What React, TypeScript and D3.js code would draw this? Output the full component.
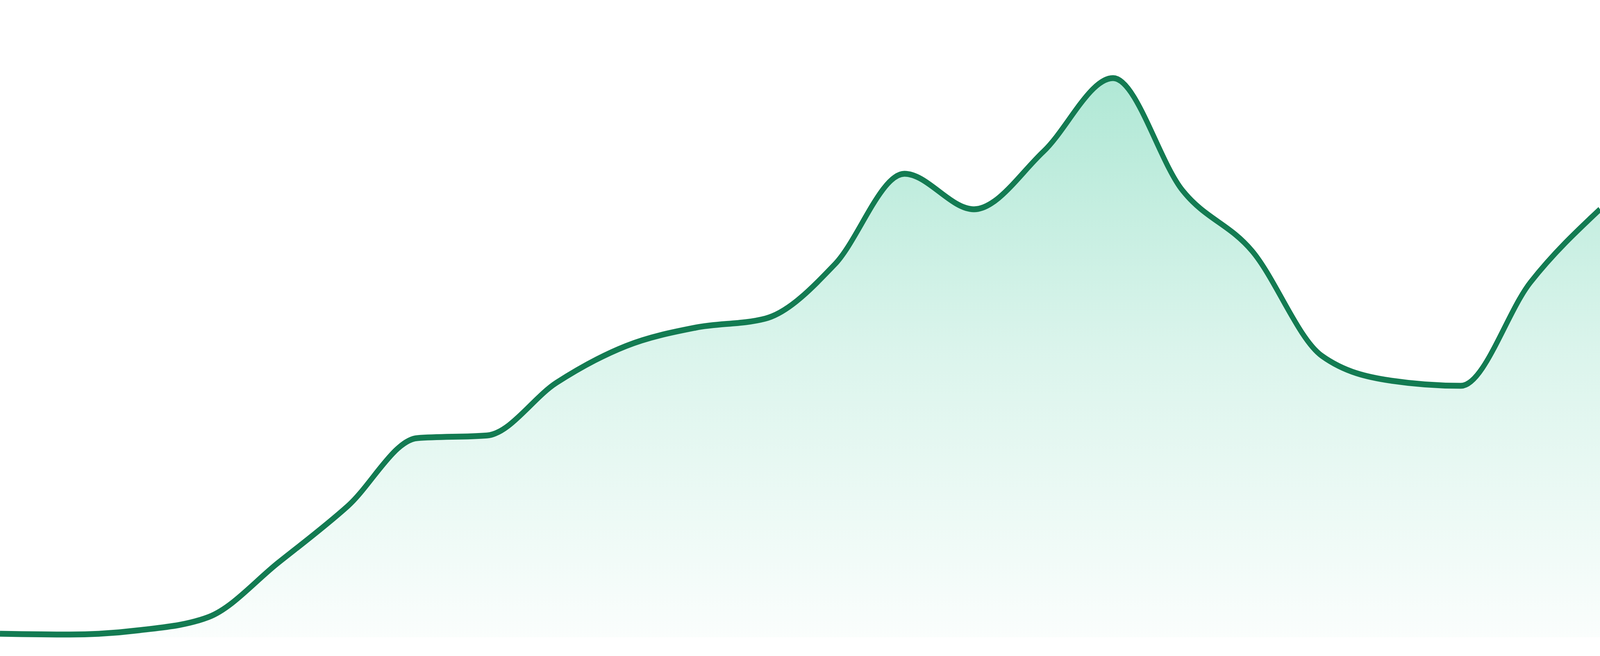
import React from "react";
import * as d3 from "d3";

// one value per evenly spaced step
const steps: number[] = [0, 1, 2, 3, 4, 5, 6, 7, 8, 9, 10, 11, 12, 13, 14, 15, 16, 17, 18, 19, 20, 21, 22, 23];
const values: number[] = [
  0.66, 0.51, 1.32, 3.82, 14.04, 24.71, 37.5, 38.0, 47.94, 54.85, 58.31, 60.0,
  70.22, 87.28, 80.59, 91.47, 105.29, 84.12, 72.72, 53.01, 48.31, 47.35, 66.84, 80.59,
];
const yDomain: [number, number] = [0, 120];

const WIDTH = 4800;
const HEIGHT = 1680;
const BASELINE = 1632;

export default class App extends React.Component {
  protected svgRef = React.createRef<SVGSVGElement>();

  componentDidMount() {
    document.body.style.margin = "0";
    this.buildChart();
  }

  componentDidUpdate() {
    this.buildChart();
  }

  buildChart() {
    const svgEl = this.svgRef.current;
    if (!svgEl) {
      return;
    }
    const svg = d3.select(svgEl);
    svg.selectAll("*").remove();

    const x = d3.scaleLinear()
      .domain([0, steps.length - 1])
      .range([0, WIDTH]);

    const y = d3.scaleLinear()
      .domain(yDomain)
      .range([BASELINE, 0]);

    const data = steps.map((s, i) => [s, values[i]] as [number, number]);

    const defs = svg.append("defs");
    const grad = defs.append("linearGradient")
      .attr("id", "areaFill")
      .attr("x1", 0).attr("y1", 0)
      .attr("x2", 0).attr("y2", 1);
    grad.append("stop").attr("offset", "0%").attr("stop-color", "#10b981").attr("stop-opacity", 0.33);
    grad.append("stop").attr("offset", "49%").attr("stop-color", "#10b981").attr("stop-opacity", 0.15);
    grad.append("stop").attr("offset", "100%").attr("stop-color", "#10b981").attr("stop-opacity", 0.02);

    const area = d3.area<[number, number]>()
      .x(d => x(d[0]))
      .y0(y(0))
      .y1(d => y(d[1]))
      .curve(d3.curveMonotoneX);

    const line = d3.line<[number, number]>()
      .x(d => x(d[0]))
      .y(d => y(d[1]))
      .curve(d3.curveMonotoneX);

    svg.append("path")
      .datum(data)
      .attr("d", area as any)
      .attr("fill", "url(#areaFill)");

    svg.append("path")
      .datum(data)
      .attr("d", line as any)
      .attr("fill", "none")
      .attr("stroke", "#137b52")
      .attr("stroke-width", 15);
  }

  render() {
    // fill the whole window whatever its css size turns out to be
    return (
      <svg
        ref={this.svgRef}
        viewBox={`0 0 ${WIDTH} ${HEIGHT}`}
        preserveAspectRatio="none"
        style={{
          position: "fixed",
          left: 0,
          top: 0,
          width: "100vw",
          height: "100vh",
          display: "block",
          background: "#ffffff",
        }}
      />
    );
  }
}
